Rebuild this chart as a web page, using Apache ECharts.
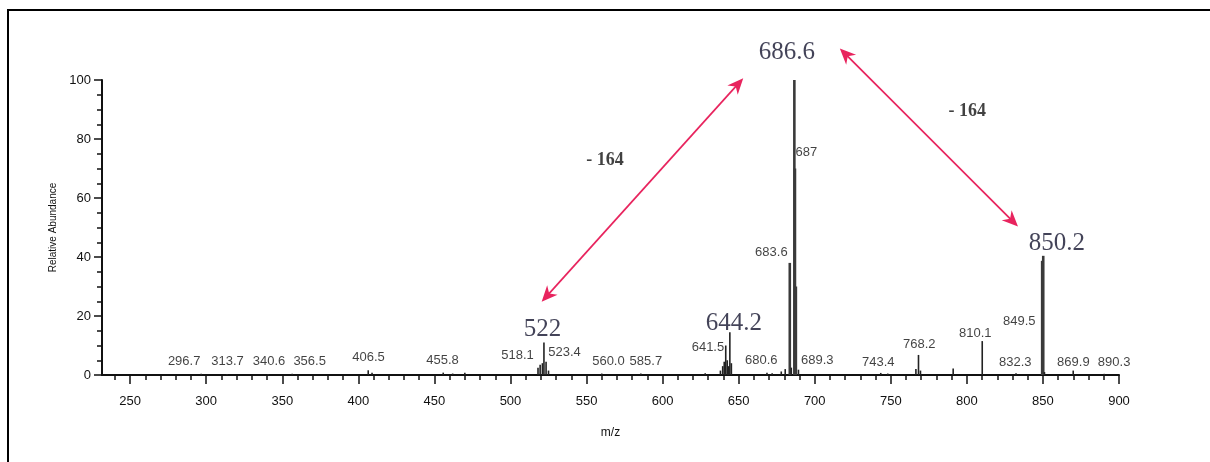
<!DOCTYPE html>
<html>
<head>
<meta charset="utf-8">
<script src="https://cdn.jsdelivr.net/npm/echarts@6/dist/echarts.min.js"></script>
<style>
html,body{margin:0;padding:0;background:#fff;}
#chart{width:1210px;height:462px;}
</style>
</head>
<body>
<div id="chart"></div>
<script>
// ---- data ----
const peakMz = [296.7, 313.7, 340.6, 356.5, 406.5, 409.0, 455.8, 462.0, 470.0,
  518.1, 519.5, 521.0, 522.0, 523.4, 525.0, 560.0, 585.7, 628.0,
  638.0, 639.5, 640.5, 641.5, 642.5, 643.5, 644.2, 645.2,
  668.6, 672.0, 678.0, 680.6, 683.6, 684.6, 686.6, 687.0, 687.6, 689.3,
  743.4, 748.0, 766.5, 768.2, 769.5, 791.0, 810.1, 832.3,
  849.5, 850.2, 851.0, 869.9, 890.3];
const peakIntensity = [0.4, 0.3, 0.3, 0.4, 1.6, 0.8, 0.8, 0.5, 0.8,
  2.5, 3.5, 4.0, 11.0, 4.5, 1.5, 0.5, 0.5, 0.6,
  1.5, 3.0, 4.5, 10.0, 5.0, 3.0, 14.5, 4.0,
  0.8, 0.6, 1.2, 2.0, 38.0, 2.5, 100.0, 70.0, 30.0, 1.8,
  0.7, 0.5, 2.0, 6.8, 1.5, 2.2, 11.5, 0.6,
  38.7, 40.4, 1.0, 1.5, 0.4];

const peakLabelText = ['296.7', '313.7', '340.6', '356.5', '406.5', '455.8', '518.1', '523.4',
  '560.0', '585.7', '641.5', '680.6', '689.3', '743.4', '768.2', '810.1', '832.3',
  '849.5', '869.9', '890.3', '687', '683.6'];
const peakLabelX = [285.5, 314.0, 341.3, 368.0, 406.7, 455.3, 504.6, 535.5,
  564.4, 589.0, 629.8, 664.9, 701.7, 741.8, 768.7, 805.5, 831.8,
  834.4, 870.0, 896.8, 694.5, 671.5];
const peakLabelY = [4.5, 4.5, 4.5, 4.5, 5.8, 5.1, 6.8, 7.5,
  4.5, 4.5, 9.2, 5.1, 5.1, 4.1, 10.2, 14.2, 4.1,
  18.0, 4.4, 4.1, 75.3, 41.4];

const bigLabelText = ['686.6', '850.2', '644.2', '522'];
const bigLabelX = [681.7, 859.1, 646.8, 521.0];
const bigLabelY = [109.5, 44.7, 17.6, 15.3];

const shiftText = ['- 164', '- 164'];
const shiftX = [562.1, 800.3];
const shiftY = [72.9, 89.3];

const arrowFromX = [520.5, 716.5];
const arrowFromY = [24.8, 110.7];
const arrowToX = [653.0, 833.6];
const arrowToY = [100.6, 50.3];

const xMajorTicks = [250, 300, 350, 400, 450, 500, 550, 600, 650, 700, 750, 800, 850, 900];
const xMinorTicks = [];
for (let v = 240; v <= 900; v += 10) if (v % 50 !== 0) xMinorTicks.push(v);

// ---- chart ----
const chart = echarts.init(document.getElementById('chart'), null, {renderer: 'canvas'});

const sticks = peakMz.map((m, i) => [m, peakIntensity[i]]);
const smallLabels = peakLabelText.map((t, i) => [peakLabelX[i], peakLabelY[i], t]);
const bigLabels = bigLabelText.map((t, i) => [bigLabelX[i], bigLabelY[i], t]);
const shiftLabels = shiftText.map((t, i) => [shiftX[i], shiftY[i], t]);
const arrowData = arrowFromX.map((x, i) => [x, arrowFromY[i], arrowToX[i], arrowToY[i]]);

const textSeries = (data, style) => ({
  type: 'scatter',
  xAxisIndex: 0, yAxisIndex: 0,
  data: data,
  symbolSize: 0,
  clip: false,
  silent: true,
  z: 5,
  label: Object.assign({
    show: true,
    position: 'inside',
    formatter: p => p.value[2]
  }, style)
});

const ARROW_COLOR = '#e8245e';

const option = {
  backgroundColor: '#ffffff',
  animation: false,
  grid: {left: 102, right: 91, top: 80, bottom: 87},
  xAxis: [{
    type: 'value',
    min: 231.5, max: 900,
    name: 'm/z',
    nameLocation: 'middle',
    nameGap: 52,
    nameTextStyle: {fontFamily: 'Liberation Sans', fontSize: 12, color: '#111'},
    axisLine: {show: true, lineStyle: {color: '#111', width: 2}},
    axisTick: {show: true, length: 9, customValues: xMajorTicks, lineStyle: {color: '#111', width: 1.5}},
    axisLabel: {show: true, customValues: xMajorTicks, margin: 20,
      fontFamily: 'Liberation Sans', fontSize: 13, color: '#111'},
    splitLine: {show: false}
  }, {
    type: 'value',
    min: 231.5, max: 900,
    position: 'bottom',
    axisLine: {show: false},
    axisTick: {show: true, length: 5, customValues: xMinorTicks, lineStyle: {color: '#111', width: 1.5}},
    axisLabel: {show: false},
    splitLine: {show: false}
  }],
  yAxis: {
    type: 'value',
    min: 0, max: 100, interval: 20,
    name: 'Relative Abundance',
    nameLocation: 'middle',
    nameGap: 31,
    nameTextStyle: {fontFamily: 'Liberation Sans', fontSize: 10, color: '#111'},
    axisLine: {show: true, lineStyle: {color: '#111', width: 2}},
    axisTick: {show: true, length: 8, lineStyle: {color: '#111', width: 1.5}},
    minorTick: {show: true, splitNumber: 4, length: 5, lineStyle: {color: '#111', width: 1.5}},
    axisLabel: {margin: 11, fontFamily: 'Liberation Sans', fontSize: 13, color: '#111'},
    splitLine: {show: false},
    minorSplitLine: {show: false}
  },
  graphic: [{
    type: 'rect',
    shape: {x: 8, y: 10, width: 1210, height: 470},
    style: {fill: 'none', stroke: '#000', lineWidth: 2},
    silent: true, z: 100
  }],
  series: [{
    type: 'custom',
    xAxisIndex: 0, yAxisIndex: 0,
    data: sticks,
    silent: true,
    z: 3,
    renderItem: function (params, api) {
      const x = api.value(0), y = api.value(1);
      const p0 = api.coord([x, 0]);
      const p1 = api.coord([x, y]);
      return {
        type: 'line',
        shape: {x1: p0[0], y1: p0[1], x2: p1[0], y2: p1[1]},
        style: {stroke: y > 20 ? '#3a3a3a' : '#222', lineWidth: y > 20 ? 2.6 : 1.6}
      };
    }
  }, {
    type: 'custom',
    xAxisIndex: 0, yAxisIndex: 0,
    data: arrowData,
    silent: true,
    clip: false,
    z: 4,
    renderItem: function (params, api) {
      const a = api.coord([api.value(0), api.value(1)]);
      const b = api.coord([api.value(2), api.value(3)]);
      const dx = b[0] - a[0], dy = b[1] - a[1];
      const len = Math.sqrt(dx * dx + dy * dy);
      const ux = dx / len, uy = dy / len;
      const nx = -uy, ny = ux;
      const L = 16, W = 7;
      const head = (tip, dir) => {
        const bx = tip[0] - dir * ux * L, by = tip[1] - dir * uy * L;
        return {
          type: 'polygon',
          shape: {points: [tip, [bx + nx * W, by + ny * W], [tip[0] - dir * ux * L * 0.7, tip[1] - dir * uy * L * 0.7], [bx - nx * W, by - ny * W]]},
          style: {fill: ARROW_COLOR}
        };
      };
      return {
        type: 'group',
        children: [{
          type: 'line',
          shape: {x1: a[0] + ux * 8, y1: a[1] + uy * 8, x2: b[0] - ux * 8, y2: b[1] - uy * 8},
          style: {stroke: ARROW_COLOR, lineWidth: 1.7}
        }, head(a, -1), head(b, 1)]
      };
    }
  },
  textSeries(smallLabels, {fontFamily: 'Liberation Sans', fontSize: 13, color: '#111'}),
  textSeries(bigLabels, {fontFamily: 'Liberation Serif', fontSize: 25, color: '#14142e'}),
  textSeries(shiftLabels, {fontFamily: 'Liberation Serif', fontSize: 18, fontWeight: 'bold', color: '#111'})]
};
chart.setOption(option);
</script>
</body>
</html>
